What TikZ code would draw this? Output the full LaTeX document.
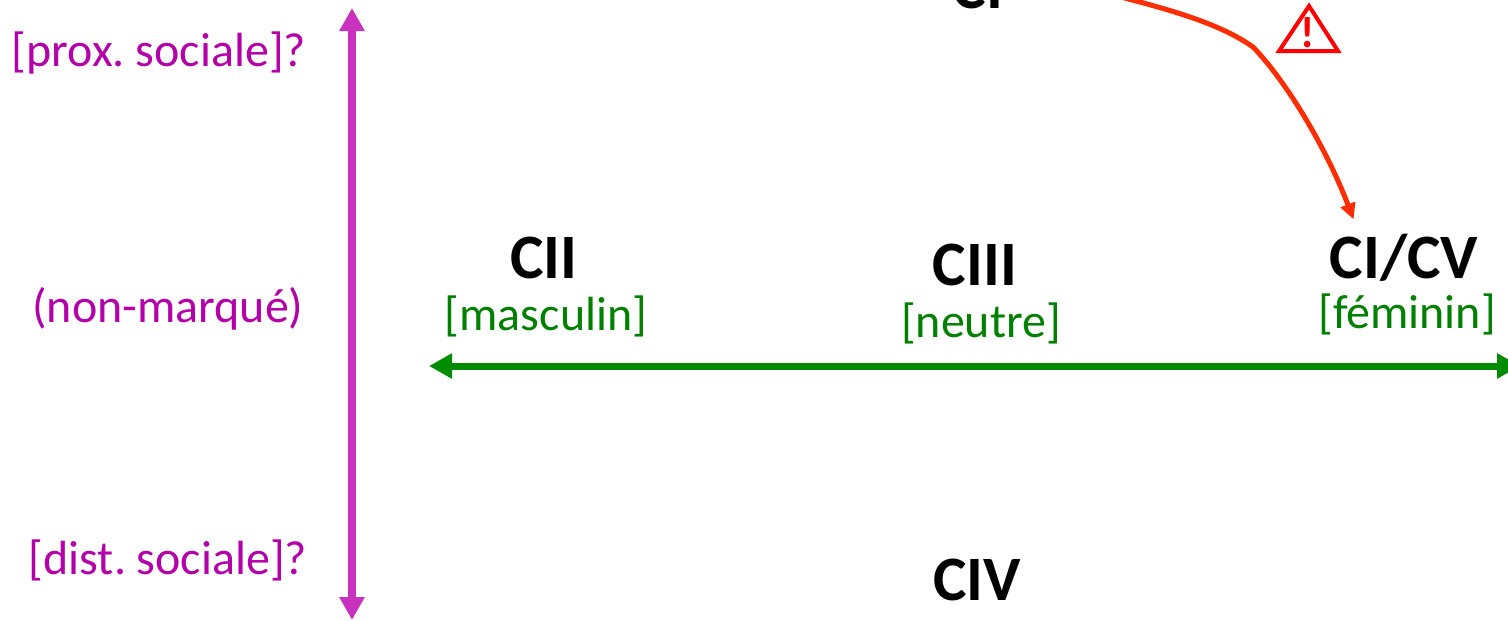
\documentclass[tikz,border=0pt]{standalone}
\usepackage{fontspec}
\setmainfont{Carlito}
\usetikzlibrary{calc,arrows.meta}
\definecolor{axismag}{HTML}{C832BE}
\definecolor{textmag}{HTML}{B400A8}
\definecolor{axisgreen}{HTML}{008C00}
\definecolor{textgreen}{HTML}{008000}
\definecolor{shiftred}{HTML}{FF2D00}

\begin{document}
\frenchspacing
\begin{tikzpicture}[
    classlabel/.style={anchor=base, inner sep=1pt, font=\fontsize{18}{20}\selectfont\bfseries},
    genderlabel/.style={anchor=base, inner sep=1pt, text=textgreen, font=\fontsize{13.65}{16}\selectfont},
    scalelabel/.style={anchor=base, inner sep=1pt, text=textmag, font=\fontsize{13.65}{16}\selectfont},
    magarr/.style={{Triangle[length=2.3mm,width=2.4mm]}-{Triangle[length=2.3mm,width=2.4mm]}, axismag, line width=0.8mm},
    greenarr/.style={{Triangle[length=2.3mm,width=2.4mm]}-{Triangle[length=2.3mm,width=2.4mm]}, axisgreen, line width=0.7mm},
    redarr/.style={-{Triangle[length=1.6mm,width=1.5mm]}, shiftred, line width=0.5mm},
    warnmark/.style={anchor=base, inner sep=0pt, text=red, font=\fontsize{12.5}{14}\selectfont\bfseries},
]
    \useasboundingbox (0,0) rectangle (15.08,6.20);
    \clip (0,0) rectangle (15.08,6.20);

    % === CLASSES ===
    \node[classlabel] (cI) at (9.78, 6.12) {CI};
    \node[classlabel] (cII) at (5.44, 3.42) {CII};
    \node[classlabel] (cIII) at (9.75, 3.35) {CIII};
    \node[classlabel] (cICV) at (14.04, 3.42) {CI/CV};
    \node[classlabel] (cIV) at (9.77, 0.20) {CIV};

    % === GENDER LABELS ===
    \node[genderlabel] (masc) at (5.46, 2.90) {[masculin]};
    \node[genderlabel] (neut) at (9.81, 2.83) {[neutre]};
    \node[genderlabel] (fem) at (14.07, 2.92) {[féminin]};

    % === SOCIAL SCALE LABELS ===
    \node[scalelabel] (prox) at (1.59, 5.54) {[prox. sociale]?};
    \node[scalelabel] (nonm) at (1.68, 2.98) {(non-marqué)};
    \node[scalelabel] (dist) at (1.68, 0.46) {[dist. sociale]?};

    % === AXES ===
    \coordinate (magtop) at (3.52, 6.12);
    \coordinate (magbot) at (3.52, 0.00);
    \coordinate (greenleft) at (4.29, 2.54);
    \coordinate (greenright) at (15.20, 2.54);
    \draw[magarr] (magtop) -- (magbot);
    \draw[greenarr] (greenleft) -- (greenright);

    % === SHIFT ARROW ===
    \coordinate (bend) at (12.53, 5.73);
    \draw[redarr] (cI.north east) .. controls (10.90, 6.24) and (11.95, 6.14) .. (bend)
        .. controls (12.85, 5.40) and (13.25, 4.75) .. ($(cICV.north west)+(0.28, 0.10)$);

    % === WARNING SIGN ===
    \draw[red, line width=0.4mm, miter limit=10] (12.79, 5.69) -- (13.09, 6.14) -- (13.38, 5.69) -- cycle;
    \node[warnmark] (warn) at (13.08, 5.73) {!};
\end{tikzpicture}
\end{document}
